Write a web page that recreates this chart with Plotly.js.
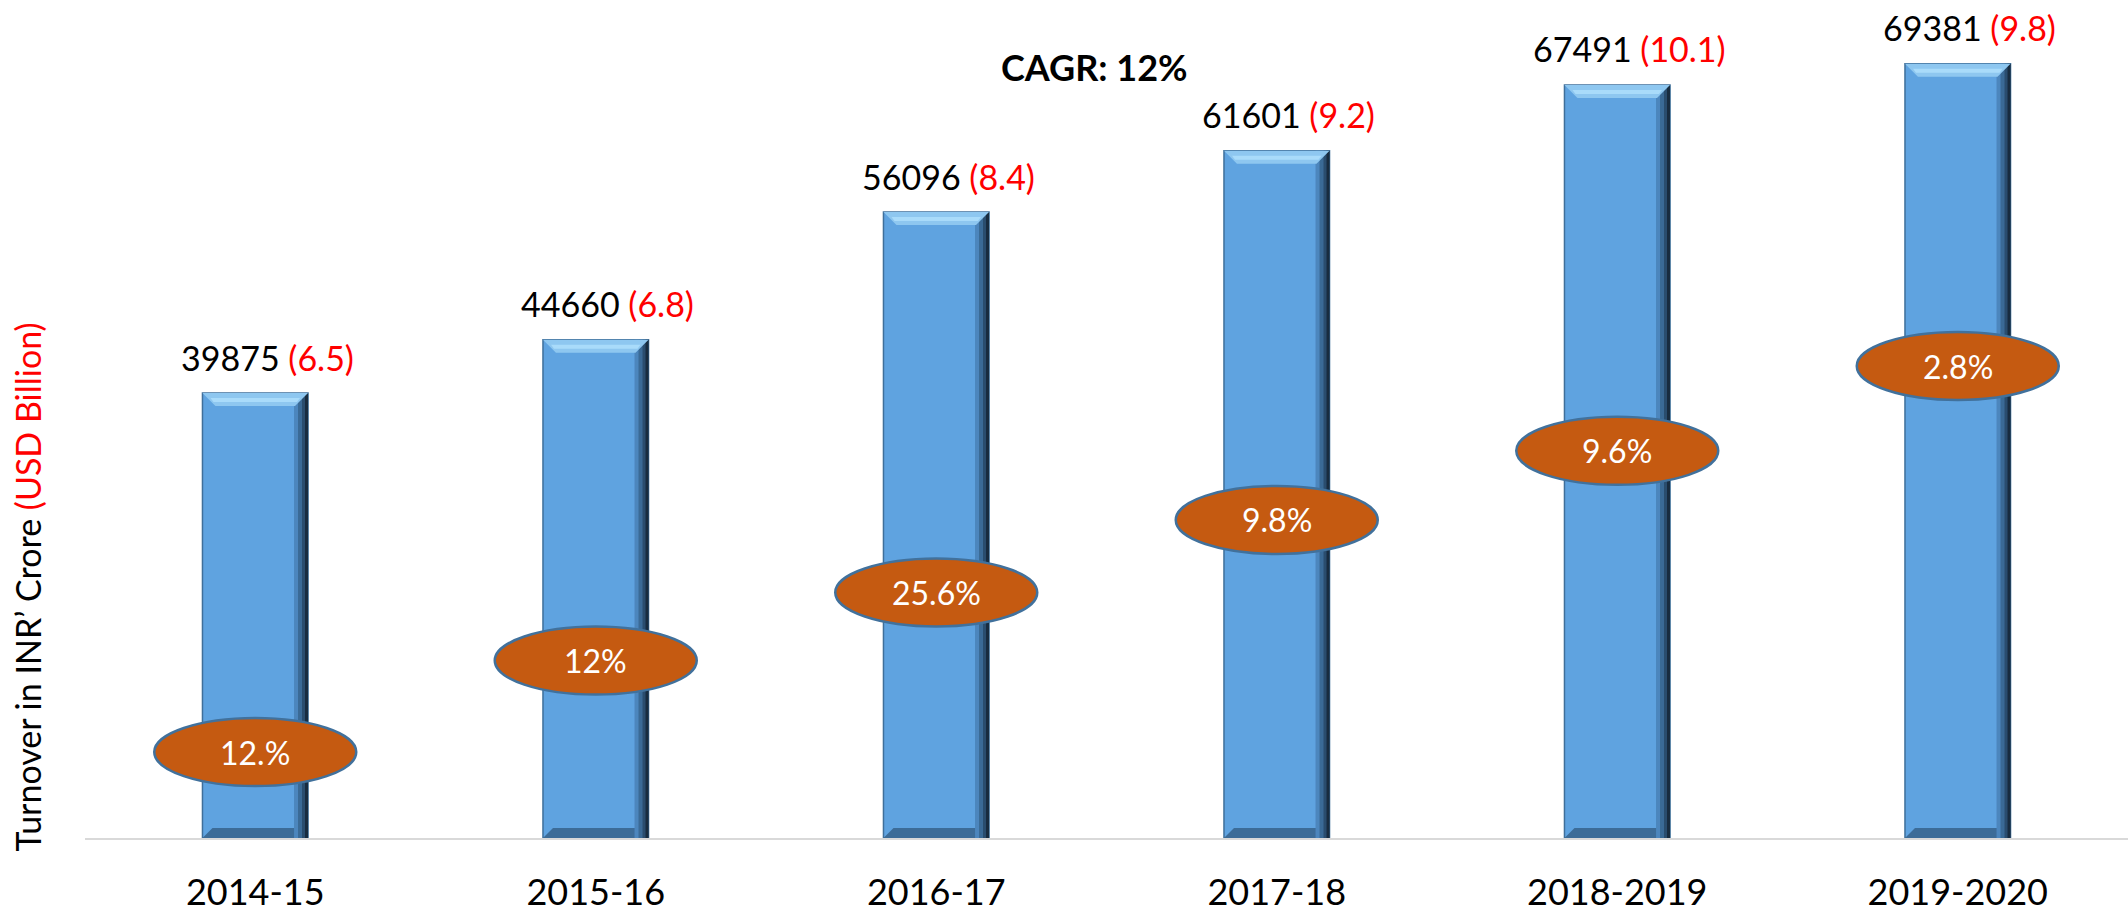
<!DOCTYPE html>
<html>
<head>
<meta charset="utf-8">
<script src="https://cdn.plot.ly/plotly-3.0.1.min.js"></script>
<style>html,body{margin:0;padding:0;background:#fff}</style>
</head>
<body>
<div id="chart" style="width:2128px;height:915px"></div>
<script>
// values
var years = ['2014-15', '2015-16', '2016-17', '2017-18', '2018-2019', '2019-2020'];
var turnover = [39875, 44660, 56096, 61601, 67491, 69381];   // INR crore
var usdBillion = ['6.5', '6.8', '8.4', '9.2', '10.1', '9.8'];
var growthLabels = ['12.%', '12%', '25.6%', '9.8%', '9.6%', '2.8%'];
var growthPos = [7700, 15900, 22000, 28500, 34700, 42300];   // where the ovals sit, in axis units

var W = 2128, H = 915, mL = 85, mR = 0, mT = 0, mB = 77;
var yMax = 75100;
var barFrac = 0.31;
var plotW = W - mL - mR, plotH = H - mT - mB;
var hw = plotW / years.length * barFrac / 2;   // half bar width in px

var shapes = [];
var annotations = [];

function pxShape(xa, ya, path, color) {
    return {
        type: 'path', xref: 'x', yref: 'y',
        xsizemode: 'pixel', ysizemode: 'pixel',
        xanchor: xa, yanchor: ya,
        path: path, fillcolor: color, line: {width: 0}
    };
}

// bevel look on each bar
for (var i = 0; i < years.length; i++) {
    var hp = turnover[i] / yMax * plotH;
    var b = 13, bb = 10;
    // bottom bevel
    shapes.push(pxShape(years[i], 0,
        'M ' + (-hw) + ',0 L ' + hw + ',0 L ' + (hw - bb) + ',' + bb + ' L ' + (-hw + bb) + ',' + bb + ' Z', '#3c6c98'));
    // right edge, darker towards the outside
    var strips = [[14, '#4c86bd'], [10, '#3a6a96'], [6, '#2a4d6e'], [3, '#182c3f']];
    strips.forEach(function (s) {
        shapes.push(pxShape(years[i], turnover[i],
            'M ' + (hw - s[0]) + ',0 L ' + hw + ',0 L ' + hw + ',' + (-hp) + ' L ' + (hw - s[0]) + ',' + (-hp) + ' Z', s[1]));
    });
    // top bevel (light)
    shapes.push(pxShape(years[i], turnover[i],
        'M ' + (-hw) + ',0 L ' + hw + ',0 L ' + (hw - b) + ',' + (-b) + ' L ' + (-hw + b) + ',' + (-b) + ' Z', '#8ec7f0'));
    shapes.push(pxShape(years[i], turnover[i],
        'M ' + (-hw + 8) + ',-5 L ' + (hw - 8) + ',-5 L ' + (hw - 11) + ',-9 L ' + (-hw + 11) + ',-9 Z', '#a9dbfa'));
}

// growth ovals
for (var j = 0; j < years.length; j++) {
    shapes.push({
        type: 'circle', xref: 'x', yref: 'y',
        xsizemode: 'pixel', ysizemode: 'pixel',
        xanchor: years[j], yanchor: growthPos[j],
        x0: -101, x1: 101, y0: -34, y1: 34,
        fillcolor: '#C55A11', line: {color: '#41719C', width: 2.5}
    });
    annotations.push({
        x: years[j], y: growthPos[j], xref: 'x', yref: 'y',
        text: growthLabels[j], showarrow: false,
        font: {family: 'Lato', size: 32, color: '#ffffff'}
    });
    annotations.push({
        x: years[j], y: turnover[j], xref: 'x', yref: 'y',
        text: turnover[j] + ' <span style="color:#ff0000">(' + usdBillion[j] + ')</span>',
        showarrow: false, yanchor: 'middle', yshift: 36, xshift: 12,
        font: {family: 'Lato', size: 34, color: '#000000'}
    });
}

annotations.push({
    xref: 'paper', yref: 'paper', x: 0.494, y: 0.92,
    xanchor: 'center', yanchor: 'middle',
    text: '<b>CAGR: 12%</b>', showarrow: false,
    font: {family: 'Lato', size: 36, color: '#000000'}
});

annotations.push({
    xref: 'paper', yref: 'paper', x: -0.028, y: 0.3,
    xanchor: 'center', yanchor: 'middle',
    text: 'Turnover in INR\u2019 Crore <span style="color:#ff0000">(USD Billion)</span>',
    showarrow: false, textangle: -90,
    font: {family: 'Lato', size: 34, color: '#000000'}
});

var bars = {
    x: years,
    y: turnover,
    type: 'bar',
    marker: {color: '#5fa3e0', line: {color: '#3f6f9a', width: 1.5}},
    hoverinfo: 'x+y'
};

var layout = {
    width: W, height: H,
    margin: {l: mL, r: mR, t: mT, b: mB},
    paper_bgcolor: '#ffffff', plot_bgcolor: '#ffffff',
    showlegend: false,
    bargap: 1 - barFrac,
    xaxis: {
        type: 'category', range: [-0.5, 5.5],
        showline: true, linecolor: '#d9d9d9', linewidth: 2,
        ticks: '', showgrid: false, ticklabelstandoff: 22,
        tickfont: {family: 'Lato', size: 36, color: '#000000'}
    },
    yaxis: {
        range: [0, yMax], showgrid: false, zeroline: false,
        showticklabels: false, ticks: ''
    },
    shapes: shapes,
    annotations: annotations
};

Plotly.newPlot('chart', [bars], layout, {displayModeBar: false});
</script>
</body>
</html>
